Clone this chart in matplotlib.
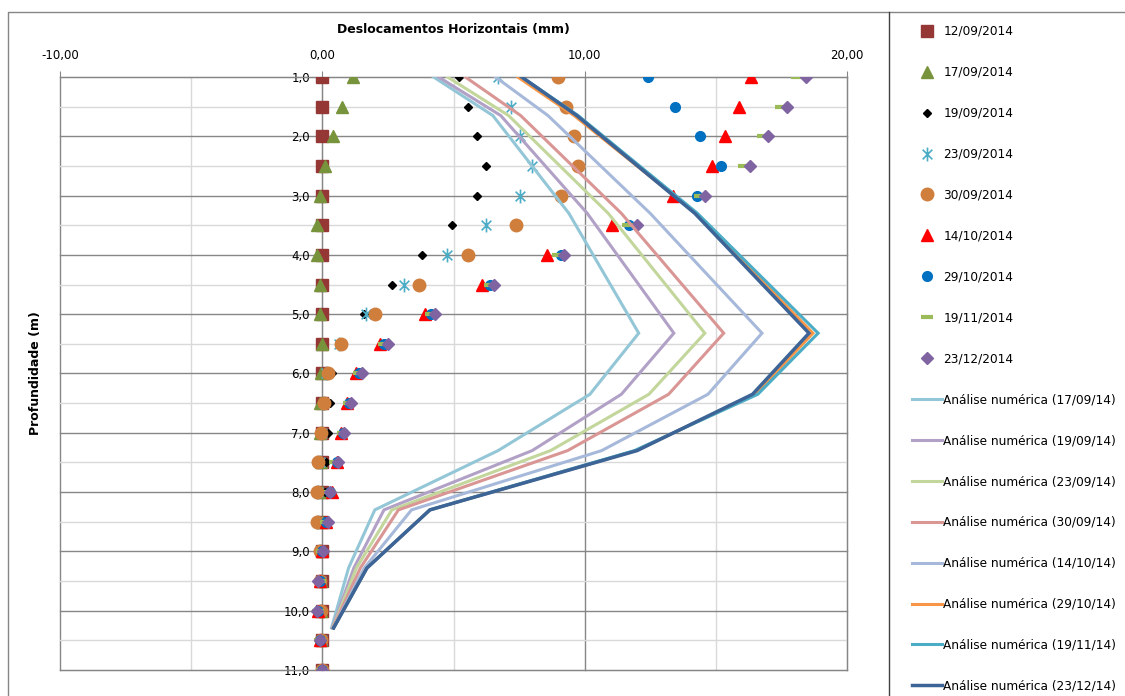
import numpy as np
import matplotlib
matplotlib.use("Agg")
import matplotlib.pyplot as plt
from matplotlib.lines import Line2D
from matplotlib.path import Path
from matplotlib.ticker import MultipleLocator, FuncFormatter

# profundidades das leituras (m)
profundidades = [1.0, 1.5, 2.0, 2.5, 3.0, 3.5, 4.0, 4.5, 5.0, 5.5, 6.0,
                 6.5, 7.0, 7.5, 8.0, 8.5, 9.0, 9.5, 10.0, 10.5, 11.0]

# leituras do inclinometro (mm)
leit_12_09 = [0.0] * 21
leit_17_09 = [1.15, 0.75, 0.4, 0.1, -0.1, -0.2, -0.2, -0.1, -0.1, 0.0, -0.05,
              -0.1, -0.1, -0.05, 0.0, 0.0, 0.0, -0.05, -0.05, -0.05, 0.0]
leit_19_09 = [5.2, 5.55, 5.9, 6.25, 5.9, 4.95, 3.8, 2.65, 1.6, 0.65, 0.35,
              0.3, 0.2, 0.15, 0.1, 0.05, 0.0, 0.0, -0.05, 0.0, 0.0]
leit_23_09 = [6.7, 7.2, 7.55, 8.0, 7.55, 6.25, 4.75, 3.1, 1.68, 0.65, 0.15,
              0.05, 0.0, -0.1, -0.15, -0.15, -0.1, -0.05, -0.1, 0.0, 0.0]
leit_30_09 = [9.0, 9.3, 9.6, 9.75, 9.1, 7.4, 5.55, 3.67, 2.0, 0.73, 0.2,
              0.08, -0.05, -0.15, -0.2, -0.2, -0.08, -0.08, -0.05, -0.05, 0.0]
leit_14_10 = [16.35, 15.9, 15.35, 14.85, 13.35, 11.05, 8.55, 6.1, 3.9, 2.2, 1.3,
              0.95, 0.7, 0.55, 0.35, 0.15, 0.0, -0.1, -0.15, -0.1, 0.0]
leit_29_10 = [12.4, 13.45, 14.4, 15.2, 14.3, 11.7, 9.1, 6.4, 4.15, 2.35, 1.4,
              1.0, 0.8, 0.55, 0.3, 0.15, 0.0, -0.1, -0.15, -0.1, 0.0]
leit_19_11 = [18.1, 17.5, 16.8, 16.07, 14.4, 11.65, 9.0, 6.4, 4.15, 2.35, 1.4,
              1.0, 0.8, 0.5, 0.3, 0.15, 0.0, -0.1, -0.15, -0.1, 0.0]
leit_23_12 = [18.43, 17.7, 17.0, 16.3, 14.6, 12.0, 9.2, 6.55, 4.28, 2.5, 1.52,
              1.1, 0.83, 0.58, 0.3, 0.2, 0.03, -0.15, -0.2, -0.1, 0.0]

# analise numerica
prof_num = [1.0, 1.65, 3.3, 5.32, 6.35, 7.3, 8.3, 9.28, 10.29]
num_17_09 = [4.24, 6.5, 9.4, 12.06, 10.2, 6.7, 2.0, 1.0, 0.35]
num_19_09 = [4.43, 6.8, 10.1, 13.4, 11.4, 8.0, 2.35, 1.2, 0.38]
num_23_09 = [4.77, 7.1, 10.9, 14.58, 12.45, 8.7, 2.65, 1.3, 0.4]
num_30_09 = [5.45, 7.56, 11.4, 15.3, 13.2, 9.35, 2.9, 1.45, 0.4]
num_14_10 = [6.6, 8.6, 12.5, 16.76, 14.7, 10.65, 3.4, 1.6, 0.42]
num_29_10 = [7.45, 9.6, 14.25, 18.7, 16.5, 11.95, 4.1, 1.7, 0.43]
num_19_11 = [7.6, 9.75, 14.3, 18.9, 16.6, 11.9, 4.1, 1.7, 0.43]
num_23_12 = [7.6, 9.7, 14.2, 18.55, 16.4, 12.0, 4.1, 1.7, 0.43]

# asterisco estilo Excel (x com traco vertical)
asterisco = Path([(-0.7, -0.7), (0.7, 0.7), (-0.7, 0.7), (0.7, -0.7), (0, -1), (0, 1)],
                 [Path.MOVETO, Path.LINETO, Path.MOVETO, Path.LINETO, Path.MOVETO, Path.LINETO])

leituras = [
    ("12/09/2014", leit_12_09, dict(marker="s", color="#953735", ms=8)),
    ("17/09/2014", leit_17_09, dict(marker="^", color="#77933C", ms=9)),
    ("19/09/2014", leit_19_09, dict(marker="D", color="black", ms=4.5)),
    ("23/09/2014", leit_23_09, dict(marker=asterisco, color="#4BACC6", ms=10, mew=1.2, mfc="none")),
    ("30/09/2014", leit_30_09, dict(marker="o", color="#D07E3C", ms=9)),
    ("14/10/2014", leit_14_10, dict(marker="^", color="#FF0000", ms=8.5)),
    ("29/10/2014", leit_29_10, dict(marker="o", color="#0070C0", ms=7)),
    ("19/11/2014", leit_19_11, dict(marker="_", color="#9BBB59", ms=9, mew=3)),
    ("23/12/2014", leit_23_12, dict(marker="D", color="#8064A2", ms=6.5)),
]

numericas = [
    ("Análise numérica (17/09/14)", num_17_09, "#93C6D6", 2.2),
    ("Análise numérica (19/09/14)", num_19_09, "#B2A1C7", 2.2),
    ("Análise numérica (23/09/14)", num_23_09, "#C3D69B", 2.2),
    ("Análise numérica (30/09/14)", num_30_09, "#D99694", 2.2),
    ("Análise numérica (14/10/14)", num_14_10, "#A7B9DA", 2.2),
    ("Análise numérica (29/10/14)", num_29_10, "#F79646", 2.2),
    ("Análise numérica (19/11/14)", num_19_11, "#4BACC6", 2.2),
    ("Análise numérica (23/12/14)", num_23_12, "#3C6496", 2.5),
]

plt.rcParams['font.family'] = ['DejaVu Sans']

fig = plt.figure(figsize=(11.25, 6.96), dpi=100)
ax = fig.add_axes([60 / 1125, 26 / 696, 787 / 1125, 593 / 696])

for nome, valores, estilo in leituras:
    ax.plot(valores, profundidades, linestyle="none", label=nome, zorder=3,
            markeredgecolor=estilo["color"], **estilo)

for nome, valores, cor, lw in numericas:
    ax.plot(valores, prof_num, color=cor, lw=lw, label=nome, zorder=4,
            solid_joinstyle="miter")

ax.set_xlim(-10, 20)
ax.set_ylim(11, 1)

ax.xaxis.set_major_locator(MultipleLocator(10))
ax.xaxis.set_minor_locator(MultipleLocator(5))
ax.yaxis.set_major_locator(MultipleLocator(1))
ax.yaxis.set_minor_locator(MultipleLocator(0.5))
ax.xaxis.set_major_formatter(FuncFormatter(lambda v, p: f"{v:.2f}".replace(".", ",")))
ax.yaxis.set_major_formatter(FuncFormatter(lambda v, p: f"{v:.1f}".replace(".", ",")))

ax.xaxis.tick_top()
ax.tick_params(axis="x", which="major", length=4, color="#868686", pad=7,
               labelsize=8.5, direction="out")
ax.tick_params(axis="x", which="minor", length=0)
ax.tick_params(axis="y", which="both", length=0, pad=9, labelsize=8.5)

ax.grid(which="major", color="#868686", lw=1)
ax.grid(which="minor", color="#D9D9D9", lw=1)
ax.set_axisbelow(True)

for lado in ["right", "bottom"]:
    ax.spines[lado].set_color("#868686")
ax.spines["top"].set_color("#868686")
ax.spines["left"].set_position(("data", 0))
ax.spines["left"].set_color("#868686")
ax.spines["left"].set_zorder(1)

fig.canvas.draw()
for gl in ax.get_xgridlines() + ax.get_ygridlines():
    gl.set_clip_on(False)

fig.text(453 / 1125, 1 - 30 / 696, "Deslocamentos Horizontais (mm)",
         ha="center", va="center", fontsize=9, fontweight="bold")
fig.text(35 / 1125, 1 - 373 / 696, "Profundidade (m)", rotation=90,
         ha="center", va="center", fontsize=9, fontweight="bold")

# bordas da area do grafico e da legenda
fig.add_artist(Line2D([8 / 1125, 8 / 1125, 1], [0, 1 - 12 / 696, 1 - 12 / 696],
                      color="#868686", lw=1))
fig.add_artist(Line2D([889 / 1125, 889 / 1125], [0, 1 - 12 / 696],
                      color="#404040", lw=1))

handles, labels = ax.get_legend_handles_labels()
fig.legend(handles, labels, loc="upper left",
           bbox_to_anchor=(912 / 1125, 1 - 25 / 696),
           frameon=False, fontsize=8.7, labelspacing=2.31,
           handlelength=2.5, handletextpad=0.1, borderpad=0, borderaxespad=0,
           numpoints=1)

fig.savefig("out.png", dpi=100)
